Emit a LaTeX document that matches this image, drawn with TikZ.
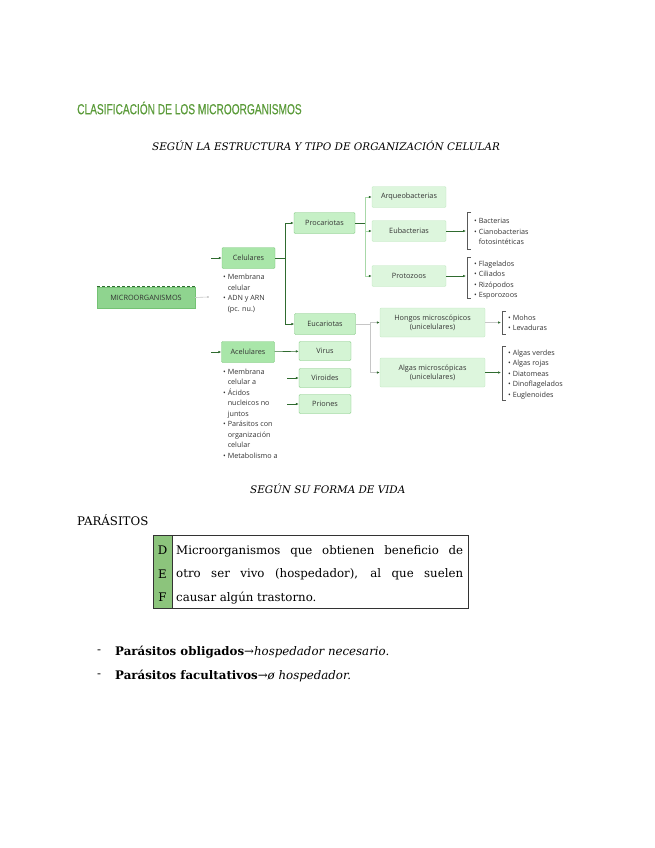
\documentclass[tikz,border=0pt]{standalone}
\usepackage{fontspec}
\setmainfont{DejaVu Serif}
\newfontfamily\diagfont{Open Sans}
\newfontfamily\titlefont[FakeStretch=0.7, FakeBold=0.5]{Liberation Sans}
\usetikzlibrary{positioning, calc, arrows.meta}

\definecolor{titlegreen}{HTML}{5B9B3A}
\definecolor{rootfill}{HTML}{8FD48F}
\definecolor{midfill}{HTML}{A9E6A9}
\definecolor{palefill}{HTML}{C6F0C6}
\definecolor{leaffill}{HTML}{DDF6DD}
\definecolor{edgegreen}{HTML}{74C274}
\definecolor{darkgreen}{HTML}{2F6B2F}
\definecolor{stemgreen}{HTML}{A8D8A8}
\definecolor{defstrip}{HTML}{8CC47C}

\begin{document}
\begin{tikzpicture}[x=1pt, y=-1pt,
            box/.style={rectangle, rounded corners=1.2pt, inner sep=1pt, align=center, text=black!80, font=\diagfont\fontsize{7.3}{8.6}\selectfont},
            root/.style={box, rounded corners=0pt, fill=rootfill, draw=edgegreen, minimum width=98pt, minimum height=21pt},
            lvlone/.style={box, fill=midfill, draw=edgegreen, minimum width=53pt, minimum height=21pt},
            lvltwo/.style={box, fill=palefill, draw=edgegreen, minimum width=61pt, minimum height=21pt},
            leaf/.style={box, fill=leaffill, draw=leaffill!70!edgegreen, minimum width=74pt, minimum height=21pt},
            wideleaf/.style={leaf, minimum width=105pt, minimum height=29pt},
            acel/.style={box, fill=leaffill!60!palefill, draw=edgegreen, minimum width=52pt, minimum height=19pt},
            notes/.style={anchor=north west, inner sep=0pt, align=left, text=black!80, font=\diagfont\fontsize{7.2}{10.5}\selectfont},
            link/.style={draw=darkgreen, semithick, -{Latex[length=3pt, width=2.6pt]}},
            palelink/.style={link, draw=stemgreen, -{Latex[length=3pt, width=2.6pt, color=darkgreen]}},
            greylink/.style={link, draw=gray!45, -{Latex[length=3pt, width=2.6pt, color=darkgreen]}},
            bracket/.style={draw=gray!70!black, semithick},
            heading/.style={anchor=west, inner sep=0pt, font=\itshape\fontsize{10.4}{12}\selectfont},
            body/.style={anchor=west, inner sep=0pt, font=\fontsize{11.8}{14}\selectfont}
        ]
            \useasboundingbox (0,0) rectangle (655,848);

            % titles
            \node[anchor=west, inner sep=0pt, text=titlegreen, font=\titlefont\fontsize{14.5}{15}\selectfont] (title) at (77,108) {CLASIFICACIÓN DE LOS MICROORGANISMOS};
            \node[heading] (sub1) at (152,146) {SEGÚN LA ESTRUCTURA Y TIPO DE ORGANIZACIÓN CELULAR};

            % tree
            \node[root] (micro) at (146,297.5) {MICROORGANISMOS};
            \draw[darkgreen, densely dashed, thick] (micro.north west) -- (micro.north east);
            \coordinate (microend) at (208,297);
            \draw[gray!45, semithick] (micro.east) -- (microend);
            \fill[gray!60] (microend) circle (0.9pt);

            \node[lvlone] (cel) at (248.5,258) {Celulares};
            \node[lvlone] (acel) at (248,352) {Acelulares};
            \coordinate (celin) at (211,258);
            \coordinate (acelin) at (211,352);
            \draw[link] (celin) -- (cel);
            \draw[link] (acelin) -- (acel);

            \node[lvltwo] (pro) at (324.5,223) {Procariotas};
            \node[lvltwo] (euc) at (325,324) {Eucariotas};
            \coordinate (celfork) at (285,258);
            \draw[darkgreen, semithick] (cel) -- (celfork);
            \draw[link] (celfork) |- (pro);
            \draw[link] (celfork) |- (euc);

            \node[leaf] (arq) at (409,197) {Arqueobacterias};
            \node[leaf] (eub) at (409,231) {Eubacterias};
            \node[leaf] (prot) at (409,276) {Protozoos};
            \coordinate (profork) at (365,223);
            \draw[darkgreen, semithick] (pro) -- (profork);
            \draw[palelink] (profork) |- (arq);
            \draw[palelink] (profork) |- (eub);
            \draw[palelink] (profork) |- (prot);

            \node[wideleaf] (hon) at (432.5,322.5) {Hongos microscópicos\\(unicelulares)};
            \node[wideleaf] (alg) at (432.5,372.5) {Algas microscópicas\\(unicelulares)};
            \coordinate (eucfork) at (370,324);
            \draw[gray!45, semithick] (euc) -- (eucfork);
            \draw[greylink] (eucfork) |- (hon);
            \draw[greylink] (eucfork) |- (alg);

            \node[acel] (vir) at (325,351) {Virus};
            \node[acel] (viro) at (325,378) {Viroides};
            \node[acel] (prio) at (325,404) {Priones};
            \coordinate (viroin) at (287,378);
            \coordinate (prioin) at (287,404);
            \draw[link] (acel) -- (vir);
            \draw[link] (viroin) -- (viro);
            \draw[link] (prioin) -- (prio);

            % brackets with lists
            \coordinate (eubbr) at (466,231);
            \coordinate (protbr) at (466,276);
            \coordinate (honbr) at (501,322.5);
            \coordinate (algbr) at (501,372.5);
            \draw[link, thick] (eub) -- (eubbr);
            \draw[link, thick] (prot) -- (protbr);
            \draw[greylink] (hon) -- (honbr);
            \draw[link, thick] (alg) -- (algbr);
            \draw[bracket] (471,212) -- (467,212) -- (467,249) -- (471,249);
            \draw[bracket] (471,257) -- (467,257) -- (467,298) -- (471,298);
            \draw[bracket] (506,311) -- (502,311) -- (502,334) -- (506,334);
            \draw[bracket] (506,346) -- (502,346) -- (502,400) -- (506,400);

            \node[notes] (celnotes) at (223,274) {• Membrana\\\hphantom{• }celular\\• ADN y ARN\\\hphantom{• }(pc. nu.)};
            \node[notes] (acelnotes) at (223,368.5) {• Membrana\\\hphantom{• }celular a\\• Ácidos\\\hphantom{• }nucleicos no\\\hphantom{• }juntos\\• Parásitos con\\\hphantom{• }organización\\\hphantom{• }celular\\• Metabolismo a};
            \node[notes] (eubnotes) at (474,218.5) {• Bacterias\\• Cianobacterias\\\hphantom{• }fotosintéticas};
            \node[notes] (protnotes) at (474,260.5) {• Flagelados\\• Ciliados\\• Rizópodos\\• Esporozoos};
            \node[notes] (honnotes) at (508,314.5) {• Mohos\\• Levaduras};
            \node[notes] (algnotes) at (508,349.5) {• Algas verdes\\• Algas rojas\\• Diatomeas\\• Dinoflagelados\\• Euglenoides};

            % forma de vida
            \node[heading] (sub2) at (250,489) {SEGÚN SU FORMA DE VIDA};
            \node[body] (paras) at (77,520) {PARÁSITOS};

            \draw[fill=defstrip, draw=none] (153,535) rectangle (172,608);
            \draw[gray!40!black, thick] (153,535) rectangle (468,608);
            \draw[gray!40!black, semithick] (172,535) -- (172,608);
            \node[inner sep=0pt, align=center, font=\fontsize{11.8}{23.5}\selectfont] (def) at (162.5,574) {D\\E\\F};
            \node[anchor=north west, inner sep=0pt, align=left, font=\fontsize{11.8}{23.5}\selectfont] (deftext) at (176,545) {\makebox[287pt][s]{Microorganismos que obtienen beneficio de}\\\makebox[287pt][s]{otro ser vivo (hospedador), al que suelen}\\causar algún trastorno.};

            \node[body] (dash1) at (97,652) {-};
            \node[body] (item1) at (115,652) {\textbf{Parásitos obligados}→\textit{hospedador necesario.}};
            \node[body] (dash2) at (97,676) {-};
            \node[body] (item2) at (115,676) {\textbf{Parásitos facultativos}→\textit{ø hospedador.}};
        \end{tikzpicture}
\end{document}
